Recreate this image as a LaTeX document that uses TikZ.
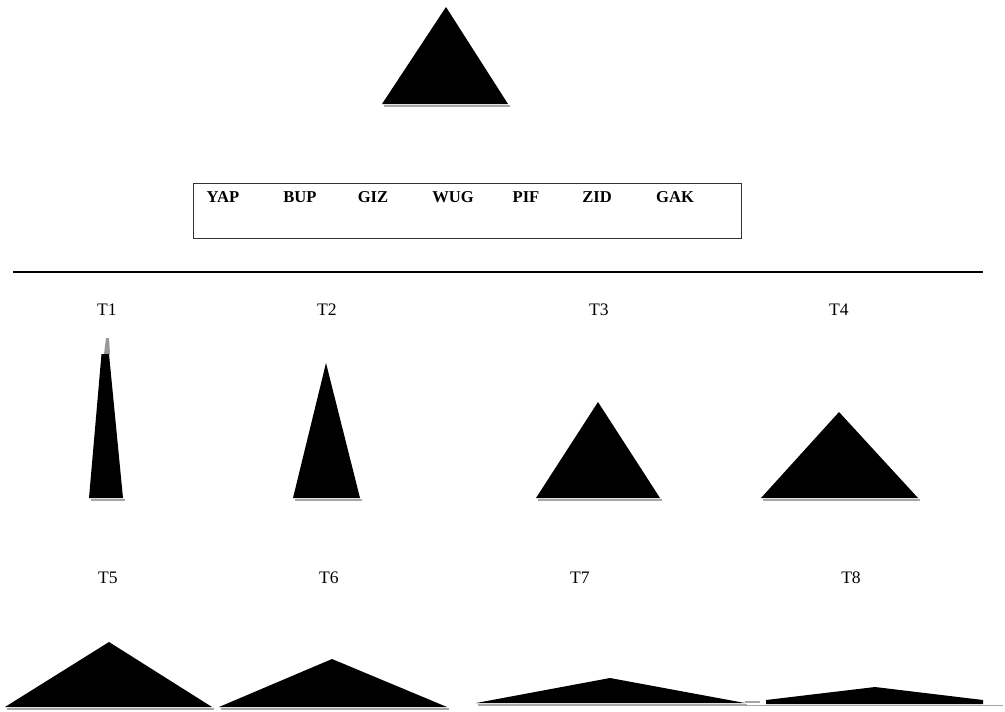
\documentclass[tikz,border=0pt]{standalone}
\usepackage{fontspec}
\setmainfont{Liberation Serif}

\begin{document}
\begin{tikzpicture}[x=0.025cm, y=-0.025cm]
    \tikzset{
        tname/.style={font=\fontsize{12.5}{14}\selectfont},
        word/.style={font=\bfseries\fontsize{11.8}{13}\selectfont},
        baseline shade/.style={black!35, line width=1.4pt},
    }
    \useasboundingbox (0,0) rectangle (1005,711);

    % The sample triangle
    \fill (382,104) -- (446,7) -- (508,104) -- cycle;
    \draw[baseline shade] (384,106) -- (510,106);

    % The word box
    \draw[black!80, line width=0.5pt] (193,183) rectangle (741,238);
    \foreach \w/\x in {YAP/223, BUP/300, GIZ/373, WUG/453, PIF/526, ZID/597, GAK/675}
        \node[word] (\w) at (\x,197) {\w};

    % Separator
    \draw[line width=0.8pt] (13,272) -- (983,272);

    % Labels of the test triangles
    \foreach \t/\x/\y in {1/107/310, 2/327/310, 3/599/310, 4/839/310,
                          5/108/578, 6/329/578, 7/580/578, 8/851/578}
        \node[tname] (t\t) at (\x,\y) {T\t};

    % T1 with its grey tip
    \fill[black!40] (104,354) -- (106,338) -- (109,338) -- (110,354) -- cycle;
    \fill (89,498) -- (101.5,354) -- (109,354) -- (123,498) -- cycle;
    \draw[baseline shade] (91,500) -- (125,500);

    % T2 to T7
    \foreach \l/\r/\ax/\ay/\b in {293/360/326/363/498, 536/660/598/402/498,
                                  761/918/839/412/498, 5/212/109/642/707,
                                  219/447/332/659/707, 476/745/610/678/703} {
        \fill (\l,\b) -- (\ax,\ay) -- (\r,\b) -- cycle;
        \draw[baseline shade] ({\l+2},{\b+2}) -- ({\r+2},{\b+2});
    }
    \draw[baseline shade] (745,702) -- (760,702);

    % T8, cut flat at both ends
    \draw[baseline shade] (745,705.5) -- (1003,705.5);
    \fill (766,704) -- (766,700) -- (875,687) -- (983,700) -- (983,704) -- cycle;
\end{tikzpicture}
\end{document}
